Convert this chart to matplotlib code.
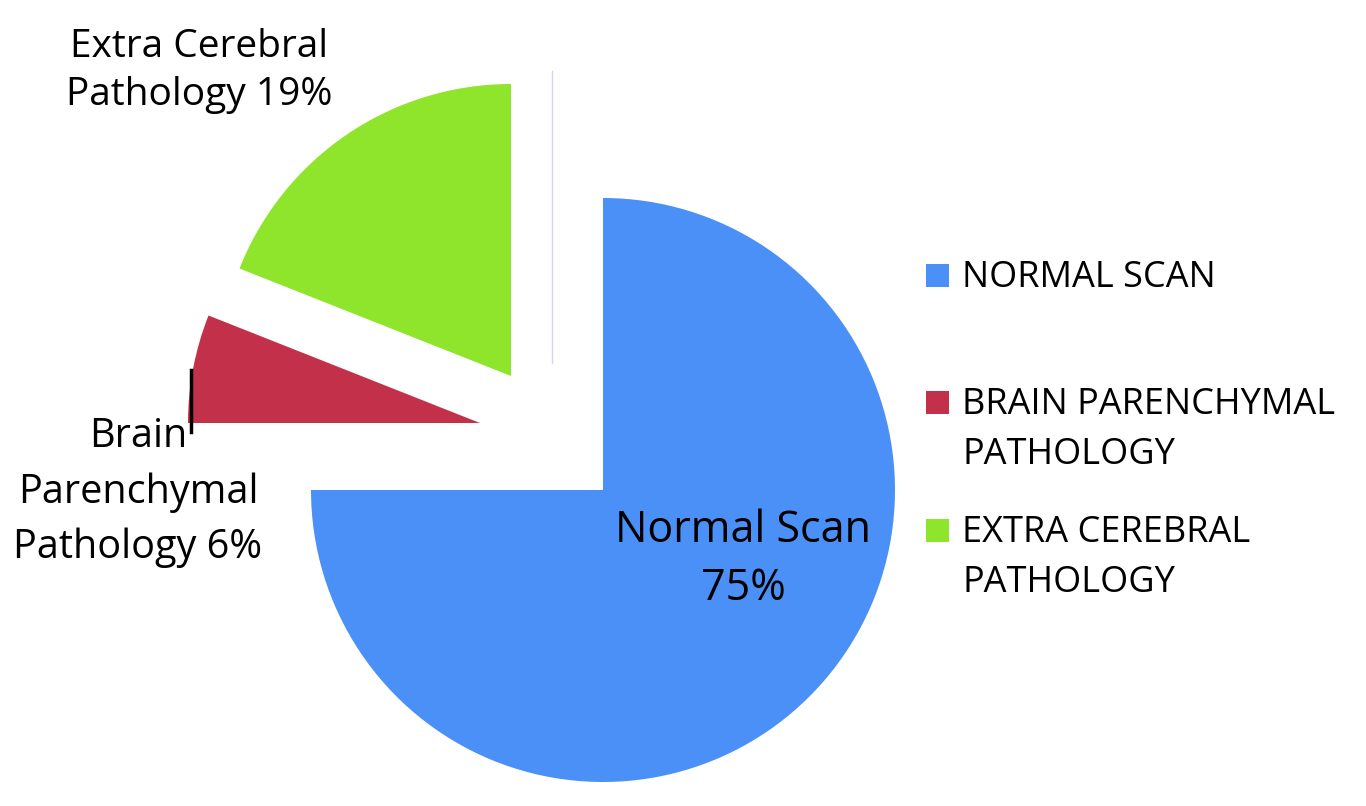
import numpy as np
import matplotlib.pyplot as plt
from matplotlib.patches import Rectangle

# data
categories = ["Normal Scan", "Brain Parenchymal Pathology", "Extra Cerebral Pathology"]
values = [75, 6, 19]
colors = ["#4A90F6", "#C3304A", "#8FE52C"]
legend_labels = ["NORMAL SCAN", "BRAIN PARENCHYMAL\nPATHOLOGY", "EXTRA CEREBRAL\nPATHOLOGY"]
slice_labels = ["Normal Scan\n75%", "Brain\nParenchymal\nPathology 6%", "Extra Cerebral\nPathology 19%"]

W, H = 1366, 806
plt.rcParams['font.family'] = ['Open Sans', 'DejaVu Sans']

fig = plt.figure(figsize=(W / 100, H / 100), dpi=100)
ax = fig.add_axes([0, 0, 1, 1])
ax.set_xlim(0, W)
ax.set_ylim(0, H)
ax.set_aspect('equal')
ax.axis('off')

def py(y):
    # image row -> data y
    return H - y

R = 292
# explode is in data units here (pixels)
wedges, _ = ax.pie(values, colors=colors, startangle=90, counterclock=False,
                   center=(603, py(490)), radius=R, explode=[0, 0, 146],
                   wedgeprops=dict(linewidth=0))
# the small slice is pulled out a little off its mid angle
wedges[1].set_center((480, py(423)))
wedges[2].set_center((511, py(376)))
ax.set_xlim(0, W)
ax.set_ylim(0, H)

def put_lines(text, x, baselines, size, ha='center'):
    for line, b in zip(text.split("\n"), baselines):
        ax.text(x, py(b), line, ha=ha, va='baseline', fontsize=size, color='black')

# slice labels
put_lines(slice_labels[0], 743, [542, 600], 31)
put_lines(slice_labels[1], 138, [447, 503, 558], 28.5)
put_lines(slice_labels[2], 199, [57, 105], 28)

# leader line and faint guide line
ax.plot([191, 191], [py(370), py(432)], color='black', lw=2.5)
ax.plot([552, 552], [py(71), py(363)], color='#D8D2F2', lw=1)

# legend
legend_base = [[287], [414, 464], [542, 592]]
for lab, c, b in zip(legend_labels, colors, legend_base):
    ax.add_patch(Rectangle((926, py(b[0])), 23, 23, color=c, lw=0))
    put_lines(lab, 962, b, 26, ha='left')

fig.savefig("out.png", dpi=100)
